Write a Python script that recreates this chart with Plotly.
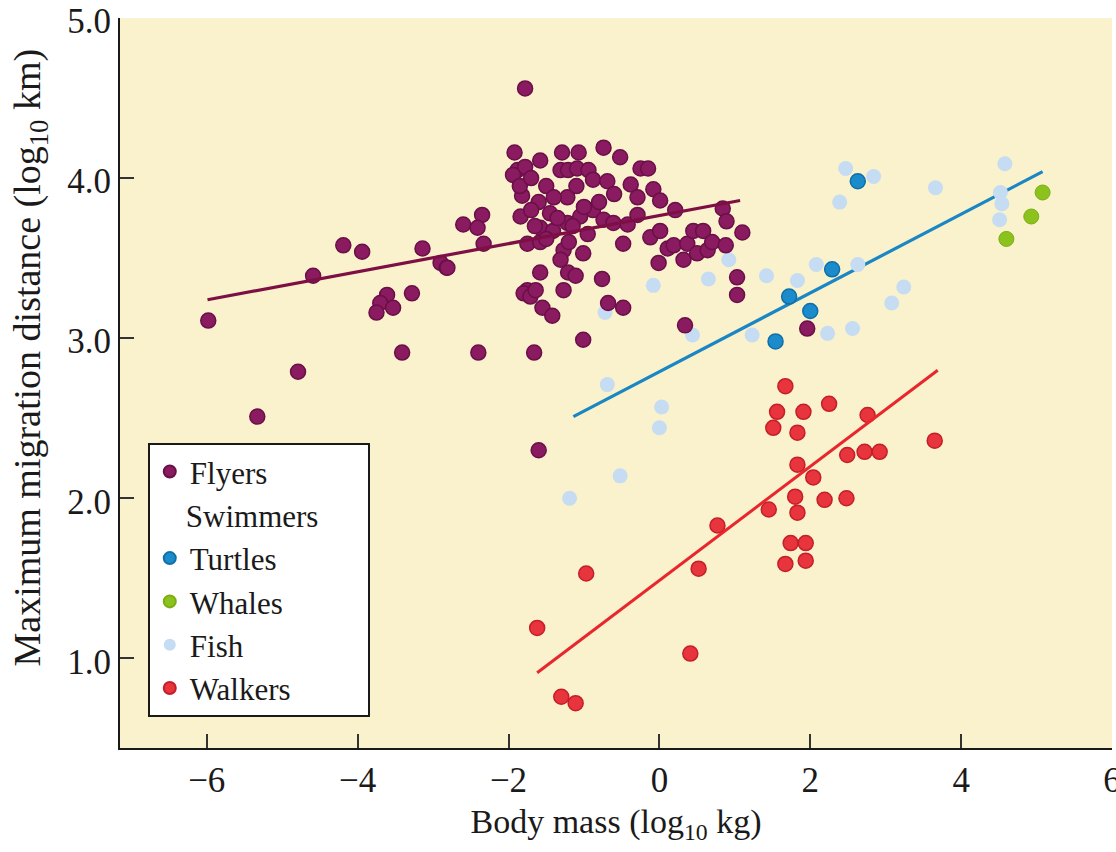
import plotly.graph_objects as go

# ---------------- data (log10 kg, log10 km) ----------------
flyers_x = [-5.98, -4.19, -3.94, -3.14, -4.59, -3.61, -3.70, -3.75, -3.53, -3.28, -3.41, -4.79, -5.33,
            -2.90, -2.82, -1.78, -1.92, -1.29, -1.07, -0.74, -0.52, -1.58, -0.25, -0.15, -1.88, -1.78,
            -1.94, -1.31, -1.21, -1.09, -0.94, -0.88, -0.69, -0.38, -0.08, -0.29, -1.82, 0.01, 0.21,
            -1.22, -1.84, -2.35, -2.60, -2.41, -2.33, -2.81, -1.75, -1.58, -1.45, -1.22, -1.05, -0.88,
            -0.74, -1.58, -1.41, -0.61, -0.42, -0.29, -0.48, -0.12, 0.01, 0.11, 0.19, -1.27, -1.31,
            -1.01, -0.01, 0.37, 0.45, 0.58, 0.32, 0.50, 0.64, 0.70, 0.88, 0.84, 0.89, 1.10, 1.03, 1.03,
            -1.58, -1.21, -1.11, -0.76, -1.75, -1.80, -1.71, -1.64, -1.27, -1.55, -1.42, -0.68, -0.48,
            0.34, -1.01, -2.40, -1.66, -1.60, 1.96,
            -1.60, -1.50, -1.40, -1.10, -1.00, -1.35, -1.15, -0.95, -1.70, -1.65, -1.50, -1.20, -0.80,
            -0.60, -1.85, -1.70]
flyers_y = [3.11, 3.58, 3.54, 3.56, 3.39, 3.27, 3.22, 3.16, 3.19, 3.28, 2.91, 2.79, 2.51,
            3.47, 3.44, 4.56, 4.16, 4.16, 4.16, 4.19, 4.13, 4.11, 4.06, 4.06, 4.05, 4.07,
            4.02, 4.05, 4.05, 4.06, 4.05, 3.99, 3.98, 3.96, 3.93, 3.88, 3.89, 3.86, 3.80,
            3.88, 3.76, 3.77, 3.71, 3.69, 3.59, 3.44, 3.59, 3.60, 3.78, 3.72, 3.76, 3.80,
            3.74, 3.69, 3.67, 3.72, 3.71, 3.77, 3.59, 3.63, 3.67, 3.56, 3.58, 3.55, 3.49,
            3.53, 3.47, 3.59, 3.67, 3.67, 3.49, 3.53, 3.55, 3.60, 3.58, 3.81, 3.73, 3.66, 3.38, 3.27,
            3.41, 3.41, 3.39, 3.37, 3.30, 3.28, 3.26, 3.30, 3.30, 3.19, 3.14, 3.22, 3.19,
            3.08, 2.99, 2.91, 2.91, 2.30, 3.06,
            3.85, 3.95, 3.88, 3.95, 3.82, 3.75, 3.70, 3.65, 3.80, 3.70, 3.62, 3.60, 3.85,
            3.90, 3.95, 4.00]

turtles_x = [2.63, 2.29, 1.72, 2.00, 1.54]
turtles_y = [3.98, 3.43, 3.26, 3.17, 2.98]

whales_x = [5.08, 4.93, 4.60]
whales_y = [3.91, 3.76, 3.62]

fish_x = [2.47, 2.84, 2.39, 3.66, 4.58, 4.52, 4.54, 4.51, 2.08, 2.63, 1.42, 1.83, 3.24, 3.08,
          2.23, 2.56, 0.92, 0.65, -0.08, -0.72, 0.44, 1.23, -0.69, 0.03, 0.00, -0.52, -1.19]
fish_y = [4.06, 4.01, 3.85, 3.94, 4.09, 3.91, 3.84, 3.74, 3.46, 3.46, 3.39, 3.36, 3.32, 3.22,
          3.03, 3.06, 3.49, 3.37, 3.33, 3.16, 3.02, 3.02, 2.71, 2.57, 2.44, 2.14, 2.00]

walkers_x = [1.67, 1.56, 1.91, 2.25, 1.51, 1.83, 2.76, 3.65, 2.49, 2.72, 2.92, 1.83, 2.04, 1.80,
             1.83, 2.19, 2.48, 1.45, 1.74, 1.94, 1.67, 1.94, 0.77, 0.52, -0.97, -1.62, 0.41,
             -1.30, -1.11]
walkers_y = [2.70, 2.54, 2.54, 2.59, 2.44, 2.41, 2.52, 2.36, 2.27, 2.29, 2.29, 2.21, 2.13, 2.01,
             1.91, 1.99, 2.00, 1.93, 1.72, 1.72, 1.59, 1.61, 1.83, 1.56, 1.53, 1.19, 1.03,
             0.76, 0.72]

# regression line end points
flyers_fit_x = [-5.99, 1.07]
flyers_fit_y = [3.24, 3.86]
swim_fit_x = [-1.14, 5.08]
swim_fit_y = [2.51, 4.04]
walk_fit_x = [-1.62, 3.69]
walk_fit_y = [0.91, 2.80]

x_ticks = [-6, -4, -2, 0, 2, 4, 6]
y_ticks = [1.0, 2.0, 3.0, 4.0, 5.0]
y_tick_text = ["1.0", "2.0", "3.0", "4.0", "5.0"]

# ---------------- styles ----------------
C_FLY, C_FLY_LINE = "#8a1b60", "#6a0f47"
C_TUR, C_TUR_LINE = "#1b8bcc", "#0f6fa8"
C_WHA = "#8cc21e"
C_FISH = "#c5dcf2"
C_WAL, C_WAL_LINE = "#e8343c", "#c41f29"
FONT = "Liberation Serif"
TXT = "#1a1a1a"

fig = go.Figure()

fig.add_trace(go.Scatter(x=swim_fit_x, y=swim_fit_y, mode="lines",
                         line=dict(color="#1b86c4", width=3.2), showlegend=False, hoverinfo="skip"))

fig.add_trace(go.Scatter(x=fish_x, y=fish_y, mode="markers", name="Fish",
                         legendgroup="swim",
                         legendgrouptitle=dict(
                             text="\u00a0\u00a0\u00a0\u00a0Swimmers\u00a0\u00a0\u00a0\u00a0\u00a0"),
                         legendrank=4,
                         marker=dict(size=15, color=C_FISH, line=dict(width=0))))
fig.add_trace(go.Scatter(x=whales_x, y=whales_y, mode="markers", name="Whales",
                         legendgroup="swim", legendrank=3,
                         marker=dict(size=15, color=C_WHA, line=dict(width=1, color="#7aae12"))))
fig.add_trace(go.Scatter(x=turtles_x, y=turtles_y, mode="markers", name="Turtles",
                         legendgroup="swim", legendrank=2,
                         marker=dict(size=15, color=C_TUR, line=dict(width=1.5, color=C_TUR_LINE))))

fig.add_trace(go.Scatter(x=walkers_x, y=walkers_y, mode="markers", name="Walkers",
                         legendgroup="walk", legendrank=5,
                         marker=dict(size=15, color=C_WAL, line=dict(width=1.5, color=C_WAL_LINE))))
fig.add_trace(go.Scatter(x=walk_fit_x, y=walk_fit_y, mode="lines",
                         line=dict(color="#e8262e", width=3), showlegend=False, hoverinfo="skip"))

fig.add_trace(go.Scatter(x=flyers_x, y=flyers_y, mode="markers", name="Flyers",
                         legendgroup="fly", legendrank=1,
                         marker=dict(size=15, color=C_FLY, line=dict(width=1.5, color=C_FLY_LINE))))
fig.add_trace(go.Scatter(x=flyers_fit_x, y=flyers_fit_y, mode="lines",
                         line=dict(color="#7d0f45", width=3.2), showlegend=False, hoverinfo="skip"))

axis_common = dict(showgrid=False, zeroline=False, showline=True, linecolor=TXT, linewidth=2,
                   ticks="inside", ticklen=14, tickwidth=1.5, tickcolor="#333", automargin=False,
                   tickfont=dict(family=FONT, size=35, color=TXT), ticklabeloverflow="allow")

fig.update_layout(
    width=1116, height=852,
    margin=dict(l=120, r=4, t=18, b=104),
    paper_bgcolor="white", plot_bgcolor="#faf2cc",
    font=dict(family=FONT, size=31, color=TXT),
    xaxis=dict(range=[-7.15, 6.0], tickvals=x_ticks,
               title=dict(text="Body mass (log<sub>10</sub> kg)", font=dict(family=FONT, size=34),
                          standoff=10),
               **axis_common),
    yaxis=dict(range=[0.44, 5.0], tickvals=y_ticks, ticktext=y_tick_text, ticklabelshift=3,
               **axis_common),
    legend=dict(x=0.028, y=0.418, xanchor="left", yanchor="top",
                bgcolor="white", bordercolor=TXT, borderwidth=2,
                font=dict(family=FONT, size=31, color=TXT),
                grouptitlefont=dict(family=FONT, size=31, color=TXT),
                traceorder="grouped", tracegroupgap=0, itemsizing="constant",
                itemwidth=30),
    showlegend=True,
    annotations=[dict(text="Maximum migration distance (log<sub>10</sub> km)",
                      xref="paper", yref="paper", x=-0.0907, y=0.535,
                      xanchor="center", yanchor="middle", textangle=-90, showarrow=False,
                      font=dict(family=FONT, size=38, color=TXT))],
)

# remove the browser's default 8px body margin so the figure fills the window exactly
fig.write_html("out.html", config={"displayModeBar": False},
               post_script="document.body.style.margin='0';")
